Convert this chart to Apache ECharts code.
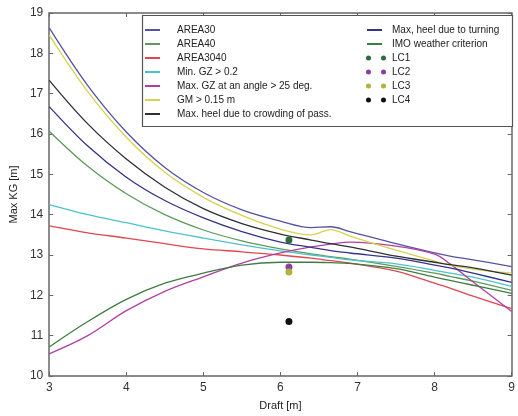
<!DOCTYPE html>
<html lang="en">
<head>
    <meta charset="UTF-8">
    <title>Max KG vs draft</title>
    <style>
        body {
            padding: 0;
            margin: 0;
            background-color: #FFFFFF;
            overflow: hidden;
        }
        #main_chart {
            width: 518px;
            height: 416px;
        }
    </style>
</head>
<body>
<div id="main_chart"></div>
<script type="text/javascript" src="https://cdn.jsdelivr.net/npm/echarts@6/dist/echarts.min.js"></script>
<script type="text/javascript">
// draft values shared by every criterion curve
var drafts = [3, 3.5, 4, 4.5, 5, 5.5, 6, 6.4, 6.65, 6.9, 7.5, 8, 8.2, 8.5, 9];

var area30    = [18.63, 17.2, 16.05, 15.17, 14.55, 14.12, 13.84, 13.68, 13.7, 13.58, 13.28, 13.05, 12.97, 12.88, 12.71];
var area40    = [16.07, 15.2, 14.52, 14.0, 13.62, 13.35, 13.15, 13.03, 12.96, 12.9, 12.72, 12.55, 12.47, 12.35, 12.12];
var area3040  = [13.72, 13.55, 13.42, 13.28, 13.15, 13.08, 13.0, 12.92, 12.86, 12.8, 12.6, 12.3, 12.18, 11.98, 11.67];
var minGZ     = [14.25, 14.0, 13.8, 13.6, 13.42, 13.25, 13.1, 13.0, 12.94, 12.88, 12.78, 12.62, 12.55, 12.45, 12.22];
var maxGZ25   = [10.55, 11.0, 11.62, 12.1, 12.46, 12.8, 13.05, 13.2, 13.27, 13.32, 13.22, 13.02, 12.78, 12.33, 11.6];
var gm015     = [18.45, 17.05, 15.92, 15.05, 14.43, 13.98, 13.64, 13.5, 13.63, 13.47, 13.12, 12.85, 12.75, 12.65, 12.55];
var crowding  = [17.33, 16.25, 15.38, 14.68, 14.15, 13.78, 13.52, 13.37, 13.28, 13.2, 12.97, 12.82, 12.76, 12.68, 12.5];
var turning   = [16.68, 15.7, 14.93, 14.35, 13.92, 13.58, 13.32, 13.19, 13.11, 13.05, 12.92, 12.75, 12.68, 12.55, 12.32];
var imoWeather = [10.72, 11.35, 11.9, 12.3, 12.55, 12.75, 12.82, 12.82, 12.81, 12.79, 12.66, 12.45, 12.37, 12.25, 12.05];

// loading conditions
var lcNames  = ['LC1', 'LC2', 'LC3', 'LC4'];
var lcDraft  = [6.11, 6.11, 6.11, 6.11];
var lcKG     = [13.37, 12.7, 12.58, 11.35];
var lcColors = ['#2b6b3c', '#8d3e9e', '#b3b23c', '#111111'];

var curves = [
    { name: 'AREA30', values: area30, color: '#5552a6' },
    { name: 'AREA40', values: area40, color: '#5f9a5c' },
    { name: 'AREA3040', values: area3040, color: '#e0474f' },
    { name: 'Min. GZ > 0.2', values: minGZ, color: '#4cc3cc' },
    { name: 'Max. GZ at an angle > 25 deg.', values: maxGZ25, color: '#b23fa4' },
    { name: 'GM > 0.15 m', values: gm015, color: '#d6d24c' },
    { name: 'Max. heel due to crowding of pass.', values: crowding, color: '#2f2f38' },
    { name: 'Max, heel due to turning', values: turning, color: '#34338a' },
    { name: 'IMO weather criterion', values: imoWeather, color: '#3f7c43' }
];

var dom = document.getElementById('main_chart');

var series = [];
curves.forEach(function (c) {
    series.push({
        name: c.name,
        type: 'line',
        data: drafts.map(function (d, i) { return [d, c.values[i]]; }),
        smooth: 0.35,
        showSymbol: false,
        symbol: 'none',
        lineStyle: { color: c.color, width: 1.3 },
        itemStyle: { color: c.color },
        z: 2
    });
});
lcNames.forEach(function (n, i) {
    series.push({
        name: n,
        type: 'scatter',
        data: [[lcDraft[i], lcKG[i]]],
        symbolSize: 7,
        itemStyle: { color: lcColors[i], opacity: 1 },
        z: 3
    });
});

var twoDots = 'path://M0,2.5a2.5,2.5 0 1,0 5,0a2.5,2.5 0 1,0 -5,0ZM15,2.5a2.5,2.5 0 1,0 5,0a2.5,2.5 0 1,0 -5,0Z';
var legendText = { fontFamily: 'Liberation Sans, Arial, sans-serif', fontSize: 10, color: '#222', lineHeight: 14 };

var option = {
    animation: false,
    textStyle: { fontFamily: 'Liberation Sans, Arial, sans-serif' },
    grid: { left: 43, right: 2, top: 13, bottom: 38 },
    graphic: [{
        type: 'rect',
        shape: { x: 142.5, y: 15.5, width: 370, height: 111 },
        style: { fill: '#fff', stroke: '#555', lineWidth: 1.2 },
        z: 3
    }],
    legend: [
        {
            orient: 'vertical', left: 140, top: 18, itemGap: 0,
            itemWidth: 15, itemHeight: 2, icon: 'rect',
            textStyle: Object.assign({ padding: [0, 0, 0, 12] }, legendText),
            data: curves.slice(0, 7).map(function (c) { return c.name; })
        },
        {
            orient: 'vertical', left: 362, top: 18, itemGap: 0,
            itemWidth: 15, itemHeight: 2, icon: 'rect',
            textStyle: Object.assign({ padding: [0, 0, 0, 5] }, legendText),
            data: curves.slice(7).map(function (c) { return c.name; })
        },
        {
            orient: 'vertical', left: 361, top: 46, itemGap: 0,
            itemWidth: 20, itemHeight: 5, icon: twoDots,
            textStyle: Object.assign({ padding: [0, 0, 0, 1] }, legendText),
            data: lcNames
        }
    ],
    xAxis: [
        {
            type: 'value', min: 3, max: 9, interval: 1,
            name: 'Draft [m]', nameLocation: 'middle', nameGap: 24,
            nameTextStyle: { fontSize: 11, color: '#222' },
            axisLine: { lineStyle: { color: '#666', width: 1.5 } },
            axisTick: { inside: true, length: 4, lineStyle: { color: '#666' } },
            axisLabel: { fontSize: 12, color: '#333', margin: 6 },
            splitLine: { show: false }
        },
        {
            type: 'value', min: 3, max: 9, interval: 1, position: 'top',
            axisLine: { lineStyle: { color: '#666', width: 1.5 } },
            axisTick: { inside: true, length: 4, lineStyle: { color: '#666' } },
            axisLabel: { show: false },
            splitLine: { show: false }
        }
    ],
    yAxis: [
        {
            type: 'value', min: 10, max: 19, interval: 1,
            name: 'Max KG [m]', nameLocation: 'middle', nameGap: 25,
            nameTextStyle: { fontSize: 11, color: '#222' },
            axisLine: { show: true, lineStyle: { color: '#666', width: 1.5 } },
            axisTick: { show: true, inside: true, length: 4, lineStyle: { color: '#666' } },
            axisLabel: { fontSize: 12, color: '#333', margin: 6 },
            splitLine: { show: false }
        },
        {
            type: 'value', min: 10, max: 19, interval: 1, position: 'right',
            axisLine: { show: true, lineStyle: { color: '#666', width: 1.5 } },
            axisTick: { show: true, inside: true, length: 4, lineStyle: { color: '#666' } },
            axisLabel: { show: false },
            splitLine: { show: false }
        }
    ],
    series: series
};

var chart = echarts.init(dom);
chart.setOption(option);
</script>
</body>
</html>
